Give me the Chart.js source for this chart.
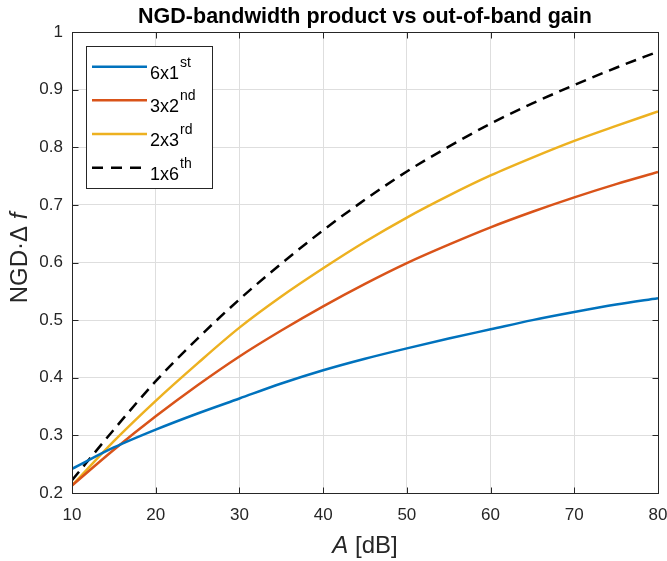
<!DOCTYPE html>
<html>
<head>
<meta charset="utf-8">
<script src="https://cdn.jsdelivr.net/npm/chart.js@4"></script>
<style>
  html, body { margin: 0; padding: 0; background: #fff; }
  canvas { display: block; }
</style>
</head>
<body>
<canvas id="ngdChart" width="667" height="561"></canvas>
<script>
// A [dB] sample points
const gainDb = [10, 15, 20, 25, 30, 35, 40, 45, 50, 55, 60, 65, 70, 75, 80];

const ngd6x1 = [0.242, 0.279, 0.310, 0.338, 0.364, 0.390, 0.413, 0.433, 0.451, 0.468, 0.484, 0.500, 0.514, 0.527, 0.538];
const ngd3x2 = [0.213, 0.275, 0.333, 0.387, 0.437, 0.482, 0.524, 0.563, 0.599, 0.631, 0.661, 0.688, 0.713, 0.736, 0.757];
const ngd2x3 = [0.213, 0.290, 0.360, 0.425, 0.487, 0.541, 0.590, 0.636, 0.678, 0.716, 0.751, 0.782, 0.811, 0.837, 0.862];
const ngd1x6 = [0.222, 0.310, 0.394, 0.468, 0.536, 0.598, 0.656, 0.709, 0.758, 0.801, 0.841, 0.876, 0.908, 0.938, 0.966];

const seriesNames = ["6x1", "3x2", "2x3", "1x6"];
const seriesSup = ["st", "nd", "rd", "th"];

const FONT = "'Liberation Sans', Arial, Helvetica, sans-serif";
const AXIS = "#262626";

function pts(ys) {
  return gainDb.map((x, i) => ({ x, y: ys[i] }));
}

const lines = [
  { data: ngd6x1, color: "#0072BD", dash: [] },
  { data: ngd3x2, color: "#D95319", dash: [] },
  { data: ngd2x3, color: "#EDB120", dash: [] },
  { data: ngd1x6, color: "#000000", dash: [11, 7] }
];

const decorPlugin = {
  id: "decor",
  afterDatasetsDraw(chart) {
    const { ctx, chartArea: a, scales } = chart;
    ctx.save();

    // box + inward ticks, matlab style
    ctx.strokeStyle = AXIS;
    ctx.lineWidth = 1;
    const L = Math.round(a.left) + 0.5, R = Math.round(a.right) + 0.5;
    const T = Math.round(a.top) + 0.5, B = Math.round(a.bottom) + 0.5;
    ctx.strokeRect(L, T, R - L, B - T);
    ctx.beginPath();
    scales.x.ticks.forEach(t => {
      const px = Math.round(scales.x.getPixelForValue(t.value)) + 0.5;
      ctx.moveTo(px, B); ctx.lineTo(px, B - 6);
      ctx.moveTo(px, T); ctx.lineTo(px, T + 6);
    });
    scales.y.ticks.forEach(t => {
      const py = Math.round(scales.y.getPixelForValue(t.value)) + 0.5;
      ctx.moveTo(L, py); ctx.lineTo(L + 6, py);
      ctx.moveTo(R, py); ctx.lineTo(R - 6, py);
    });
    ctx.stroke();

    // title
    const cx = (a.left + a.right) / 2;
    ctx.fillStyle = "#000";
    ctx.font = "bold 21.5px " + FONT;
    ctx.textAlign = "center";
    ctx.textBaseline = "alphabetic";
    ctx.fillText("NGD-bandwidth product vs out-of-band gain", cx, 23);

    // x title: italic A + [dB]
    ctx.fillStyle = AXIS;
    ctx.textAlign = "left";
    ctx.font = "italic 24px " + FONT;
    const wA = ctx.measureText("A").width;
    ctx.font = "24px " + FONT;
    const wRest = ctx.measureText(" [dB]").width;
    let x0 = cx - (wA + wRest) / 2;
    ctx.font = "italic 24px " + FONT;
    ctx.fillText("A", x0, 553);
    ctx.font = "24px " + FONT;
    ctx.fillText(" [dB]", x0 + wA, 553);

    // y title: NGD·Δ f (f italic)
    ctx.save();
    ctx.translate(27, 258);
    ctx.rotate(-Math.PI / 2);
    ctx.font = "24px " + FONT;
    const p1 = "NGD\u00B7\u0394 ";
    const w1 = ctx.measureText(p1).width;
    ctx.font = "italic 24px " + FONT;
    const w2 = ctx.measureText("f").width;
    let y0 = -(w1 + w2) / 2;
    ctx.font = "24px " + FONT;
    ctx.fillText(p1, y0, 0);
    ctx.font = "italic 24px " + FONT;
    ctx.fillText("f", y0 + w1, 0);
    ctx.restore();

    // legend
    ctx.fillStyle = "#fff";
    ctx.fillRect(86.5, 46.5, 126, 142);
    ctx.strokeStyle = AXIS;
    ctx.lineWidth = 1;
    ctx.strokeRect(86.5, 46.5, 126, 142);
    lines.forEach((s, i) => {
      const ly = 66.7 + i * 33.67;
      ctx.strokeStyle = s.color;
      ctx.lineWidth = 2.5;
      ctx.setLineDash(s.dash.length ? [11, 8] : []);
      ctx.beginPath();
      ctx.moveTo(92, ly); ctx.lineTo(147, ly);
      ctx.stroke();
      ctx.setLineDash([]);
      ctx.fillStyle = "#000";
      ctx.font = "18px " + FONT;
      ctx.fillText(seriesNames[i], 150, ly + 12);
      const wn = ctx.measureText(seriesNames[i]).width;
      ctx.font = "14px " + FONT;
      ctx.fillText(seriesSup[i], 150 + wn + 1, ly);
    });

    ctx.restore();
  }
};

new Chart(document.getElementById("ngdChart"), {
  type: "line",
  data: {
    datasets: lines.map((s, i) => ({
      label: seriesNames[i] + seriesSup[i],
      data: pts(s.data),
      borderColor: s.color,
      backgroundColor: s.color,
      borderWidth: 2.5,
      borderDash: s.dash,
      pointRadius: 0,
      fill: false,
      cubicInterpolationMode: "monotone"
    }))
  },
  options: {
    responsive: false,
    devicePixelRatio: 1,
    animation: false,
    layout: { padding: { top: 32, right: 9, left: 0, bottom: 0 } },
    plugins: {
      legend: { display: false },
      title: { display: false },
      tooltip: { enabled: false }
    },
    scales: {
      x: {
        type: "linear",
        min: 10,
        max: 80,
        afterFit(scale) {
          scale.height = 68;
          // let the last label run into the page edge like the original
          scale.paddingLeft = 0;
          scale.paddingRight = 0;
        },
        ticks: { stepSize: 10, padding: 12, color: AXIS, font: { family: FONT, size: 17 } },
        grid: { color: "#dedede", drawTicks: false },
        border: { display: false }
      },
      y: {
        min: 0.2,
        max: 1,
        afterFit(scale) { scale.width = 72; },
        ticks: {
          stepSize: 0.1,
          padding: 9,
          color: AXIS,
          font: { family: FONT, size: 17 },
          callback: v => Math.abs(v - 1) < 1e-9 ? "1" : v.toFixed(1)
        },
        grid: { color: "#dedede", drawTicks: false },
        border: { display: false }
      }
    }
  },
  plugins: [decorPlugin]
});
</script>
</body>
</html>
